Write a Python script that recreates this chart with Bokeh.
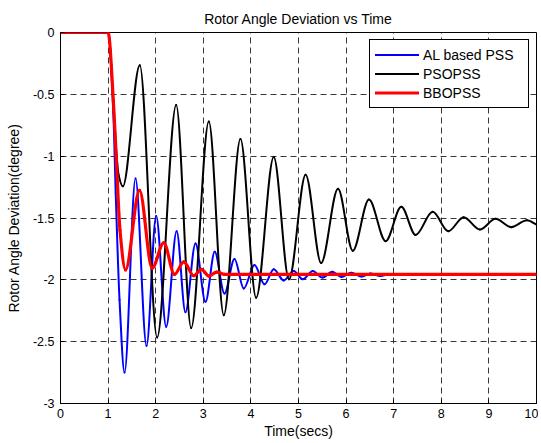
import numpy as np
from bokeh.plotting import figure
from bokeh.models import FixedTicker, Range1d
from bokeh.embed import file_html
from bokeh.resources import INLINE

# ---- data (times in s, deviation in degree) ----
time_al = [0, 1.0, 1.11, 1.16, 1.24, 1.345, 1.576, 1.807, 2.01, 2.22, 2.44, 2.625,
           2.836, 3.046, 3.24, 3.445, 3.655, 3.85, 4.075, 4.286, 4.48, 4.69, 4.90,
           5.09, 5.30, 5.50, 5.71, 5.90, 6.11, 6.32, 6.51, 6.72, 6.92, 7.1, 10.0]
dev_al = [0, 0, -0.65, -1.3, -2.16, -2.75, -1.18, -2.533, -1.483, -2.38, -1.607, -2.262,
          -1.706, -2.178, -1.773, -2.111, -1.832, -2.07, -1.88, -2.036, -1.915, -2.005, -1.929,
          -1.996, -1.929, -1.982, -1.934, -1.977, -1.942, -1.974, -1.948, -1.969, -1.952, -1.96, -1.96]

time_pso = [0, 1.0, 1.11, 1.17, 1.22, 1.31, 1.666, 2.03, 2.43, 2.745, 3.116, 3.43, 3.78,
            4.11, 4.48, 4.80, 5.15, 5.475, 5.83, 6.14, 6.48, 6.83, 7.16, 7.46, 7.82,
            8.145, 8.47, 8.81, 9.14, 9.47, 9.80, 10.0]
dev_pso = [0, 0, -0.55, -0.95, -1.15, -1.244, -0.264, -2.466, -0.586, -2.39, -0.72, -2.286, -0.862,
           -2.144, -1.007, -1.996, -1.15, -1.864, -1.263, -1.765, -1.351, -1.687, -1.41, -1.637, -1.45,
           -1.607, -1.494, -1.593, -1.507, -1.574, -1.518, -1.553]

time_bbo = [0, 1.0, 1.11, 1.17, 1.25, 1.366, 1.66, 1.925, 2.17, 2.395, 2.59, 2.80,
            2.96, 3.12, 3.28, 3.45, 10.0]
dev_bbo = [0, 0, -0.55, -1.0, -1.6, -1.92, -1.276, -1.905, -1.70, -1.956, -1.855, -1.967,
           -1.915, -1.97, -1.937, -1.956, -1.956]

series_names = ["AL based PSS", "PSOPSS", "BBOPSS"]

x_ticks = [0, 1, 2, 3, 4, 5, 6, 7, 8, 9, 10]
x_tick_labels = ["0", "1", "2", "3", "4", "5", "6", "7", "8", "9", "10"]
y_ticks = [-3, -2.5, -2, -1.5, -1, -0.5, 0]
y_tick_labels = ["-3", "-2.5", "-2", "-1.5", "-1", "-0.5", "0"]


def smooth_segments(t, y):
    """Monotone cubic (Hermite) tangents -> Bezier control points for drawing."""
    t = np.asarray(t, float)
    y = np.asarray(y, float)
    h = np.diff(t)
    d = np.diff(y) / h
    n = len(t)
    m = np.zeros(n)
    for k in range(1, n - 1):
        if d[k - 1] * d[k] > 0:
            w1 = 2 * h[k] + h[k - 1]
            w2 = h[k] + 2 * h[k - 1]
            m[k] = (w1 + w2) / (w1 / d[k - 1] + w2 / d[k])
    m[-1] = d[-1]
    return dict(x0=t[:-1], y0=y[:-1], x1=t[1:], y1=y[1:],
                cx0=t[:-1] + h / 3, cy0=y[:-1] + m[:-1] * h / 3,
                cx1=t[1:] - h / 3, cy1=y[1:] - m[1:] * h / 3)


FONT = "Liberation Sans"

p = figure(frame_width=476, frame_height=371, output_backend="svg", toolbar_location=None,
           x_range=Range1d(0, 10), y_range=Range1d(-3, 0),
           min_border_left=60, min_border_right=2, min_border_top=32, min_border_bottom=0,
           title="Rotor Angle Deviation vs Time")

p.title.align = "center"
p.title.text_font = FONT
p.title.text_font_size = "14px"
p.title.text_font_style = "normal"
p.title.text_color = "black"
p.title.standoff = 12

p.outline_line_color = "black"
p.outline_line_width = 1
p.outline_line_alpha = 1
p.background_fill_color = "white"
p.border_fill_color = "white"

p.xaxis.ticker = FixedTicker(ticks=x_ticks)
p.xaxis.major_label_overrides = {float(k): v for k, v in zip(x_ticks, x_tick_labels)}
p.yaxis.ticker = FixedTicker(ticks=y_ticks)
p.yaxis.major_label_overrides = {float(k): v for k, v in zip(y_ticks, y_tick_labels)}

p.xaxis.axis_label = "Time(secs)"
p.yaxis.axis_label = "Rotor Angle Deviation(degree)"
for ax in (p.xaxis, p.yaxis):
    ax.axis_label_text_font = FONT
    ax.axis_label_text_font_size = "14px"
    ax.axis_label_text_font_style = "normal"
    ax.axis_label_text_color = "black"
    ax.major_label_text_font = FONT
    ax.major_label_text_font_size = "12.5px"
    ax.major_label_text_color = "black"
    ax.axis_line_color = "black"
    ax.major_tick_line_color = "black"
    ax.major_tick_in = 4
    ax.major_tick_out = 0
    ax.minor_tick_line_color = None
p.xaxis.major_label_standoff = 5
p.xaxis.axis_label_standoff = 2
p.yaxis.major_label_standoff = 6
p.yaxis.axis_label_standoff = 8

p.grid.grid_line_color = "#222222"
p.grid.grid_line_dash = "6 4"
p.grid.grid_line_width = 1
p.grid.grid_line_alpha = 0.9

styles = [("#0000ff", 2), ("#000000", 2), ("#ff0000", 3.2)]
for (t, y), name, (col, w) in zip([(time_al, dev_al), (time_pso, dev_pso), (time_bbo, dev_bbo)],
                                   series_names, styles):
    seg = smooth_segments(t, y)
    p.bezier(source=seg, x0="x0", y0="y0", x1="x1", y1="y1",
             cx0="cx0", cy0="cy0", cx1="cx1", cy1="cy1",
             line_color=col, line_width=w, line_cap="round", line_join="round",
             legend_label=name)

lg = p.legend[0]
lg.location = "top_right"
lg.border_line_color = "black"
lg.border_line_width = 1
lg.border_line_alpha = 1
lg.background_fill_color = "white"
lg.background_fill_alpha = 1
lg.label_text_font = FONT
lg.label_text_font_size = "14px"
lg.label_text_color = "black"
lg.glyph_width = 44
lg.glyph_height = 19
lg.label_height = 19
lg.label_width = 100
lg.label_standoff = 4
lg.padding = 5
lg.spacing = 0
lg.margin = 7

open("out.html", "w").write(file_html(p, INLINE))
